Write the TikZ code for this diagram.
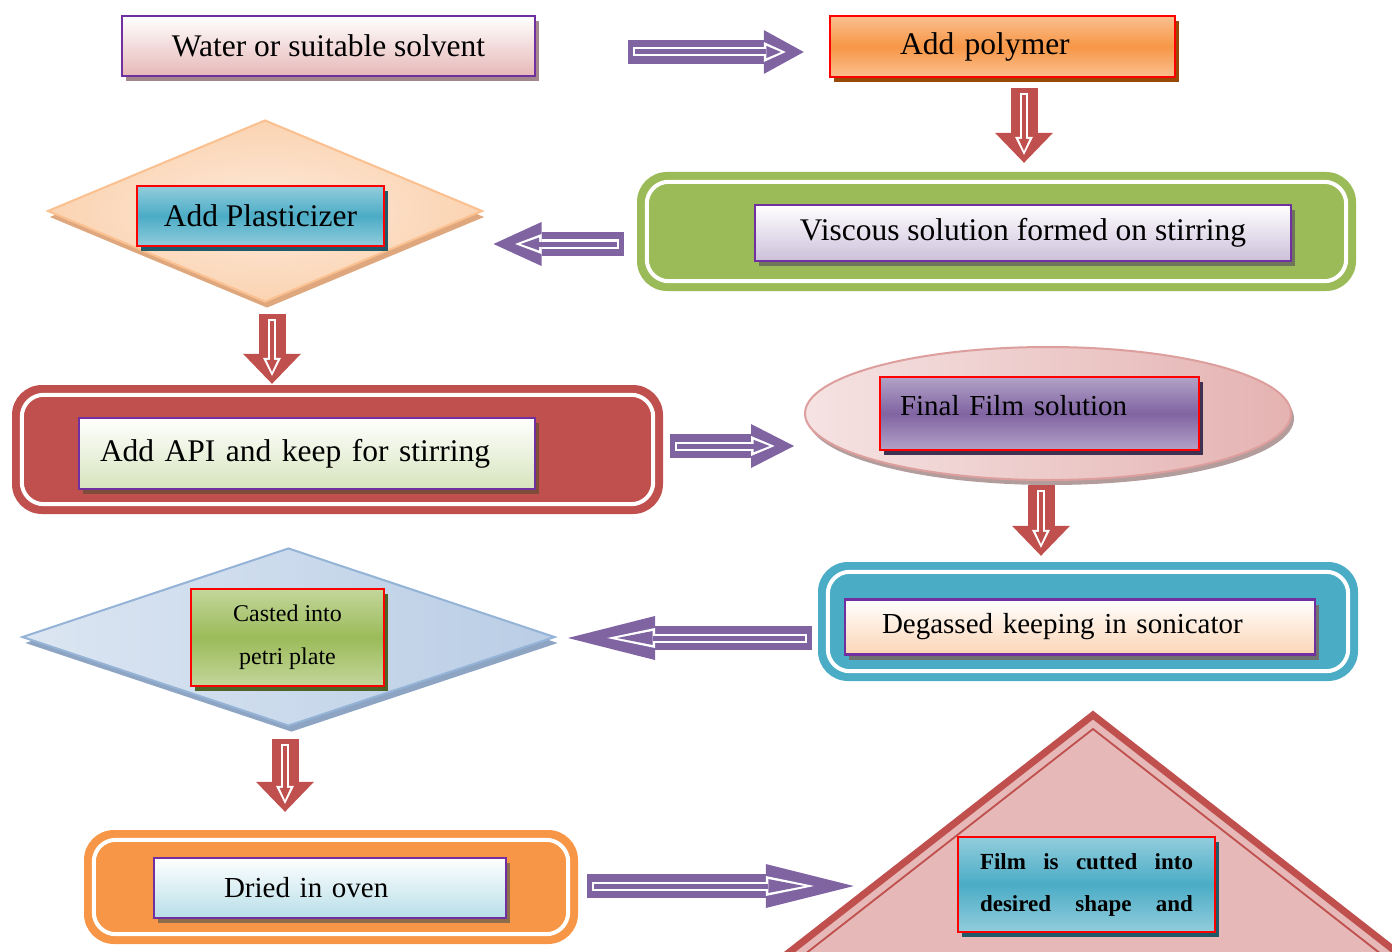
\documentclass[tikz,border=0pt]{standalone}
\usepackage{fontspec}
\setmainfont{Liberation Serif}
\usetikzlibrary{shapes.geometric,shadows,arrows.meta,calc}

\definecolor{boxpurple}{HTML}{7030A0}
\definecolor{flowpurple}{HTML}{8064A2}
\definecolor{flowred}{HTML}{C0504D}
\definecolor{framegreen}{HTML}{9BBB59}
\definecolor{frameblue}{HTML}{4BACC6}
\definecolor{frameorange}{HTML}{F79646}
\definecolor{lightpink}{HTML}{E6B8B7}
\definecolor{lightorange}{HTML}{FAC090}
\definecolor{lavender}{HTML}{CCC0DA}
\definecolor{lightteal}{HTML}{92CDDC}
\definecolor{lightolive}{HTML}{D7E4BD}
\definecolor{lightviolet}{HTML}{B3A2C7}
\definecolor{peach}{HTML}{FBD5B5}
\definecolor{lightgreen}{HTML}{C3D69B}
\definecolor{paleblue}{HTML}{B7DEE8}
\definecolor{skyleft}{HTML}{DCE6F2}
\definecolor{skyright}{HTML}{B9CDE5}
\definecolor{skyborder}{HTML}{95B3D7}
\definecolor{shadowpink}{HTML}{A3878A}
\definecolor{shadowbrown}{HTML}{984807}
\definecolor{shadowolive}{HTML}{6E755A}
\definecolor{shadowteal}{HTML}{215968}
\definecolor{shadowrust}{HTML}{7F4B3B}
\definecolor{shadowplum}{HTML}{3F3151}
\definecolor{shadowgray}{HTML}{707070}
\definecolor{shadowgreen}{HTML}{4F6228}
\definecolor{shadowtan}{HTML}{8C6D4C}
\definecolor{shadowpeach}{HTML}{DFA77E}
\definecolor{shadowblue}{HTML}{8DA4C3}
\definecolor{shadowrose}{HTML}{B39C9C}

\tikzset{
  stepbox/.style={rectangle, line width=2.5pt, inner ysep=0pt, font=\fontsize{31.5}{36}\selectfont},
  purplebox/.style={stepbox, draw=boxpurple},
  redbox/.style={stepbox, draw=red},
  boxshadow/.style={drop shadow={shadow xshift=4pt, shadow yshift=-5pt, fill=#1, opacity=1}},
  fade/.style={top color=white, bottom color=#1},
  band/.style 2 args={top color=#1, bottom color=#1, middle color=#2},
  frame/.style={rectangle, rounded corners=30pt, fill=#1, inner sep=0pt},
}

% fat purple arrow with white inner outline
\newcommand{\purplearrow}[3]{%
  \pgfmathsetmacro{\ilen}{0.55*#3}%
  \pgfmathsetmacro{\iback}{0.45*#3}%
  \pgfmathsetmacro{\pback}{\iback+2/sin(atan(10/\ilen))}%
  \pgfmathsetmacro{\plen}{\ilen-(\pback-\iback)-2.5}%
  \pgfmathsetmacro{\pwid}{20*\plen/\ilen-1}%
  \draw[flowpurple, line width=24pt, -{Triangle[length=#3pt, width=44pt, line width=0pt]}] (#1) -- (#2);
  \draw[white, line width=9pt, shorten <=5pt, shorten >=\iback pt, -{Triangle[length=\ilen pt, width=20pt, line width=0pt]}] (#1) -- (#2);
  \draw[flowpurple, line width=5pt, shorten <=7pt, shorten >=\pback pt, -{Triangle[length=\plen pt, width=\pwid pt, line width=0pt]}] (#1) -- (#2);
}
% fat red arrow pointing down
\newcommand{\redarrow}[2]{%
  \draw[flowred, line width=27pt, -{Triangle[length=30pt, width=58pt, line width=0pt]}] (#1) -- (#2);
  \draw[white, line width=8pt, shorten <=5pt, shorten >=8pt, -{Triangle[length=18pt, width=18pt, line width=0pt]}] (#1) -- (#2);
  \draw[flowred, line width=4pt, shorten <=7pt, shorten >=12pt, -{Triangle[length=12pt, width=11pt, line width=0pt]}] (#1) -- (#2);
}
% white line inside a frame
\newcommand{\whiteline}[1]{%
  \draw[white, line width=4pt, rounded corners=22pt] ($(#1.north west)+(10,10)$) rectangle ($(#1.south east)+(-10,-10)$);
}

\begin{document}
\begin{tikzpicture}[x=1pt, y=-1pt]
  \useasboundingbox (0,0) rectangle (1392,952);

  % first row
  \node[purplebox, fade=lightpink, boxshadow=shadowpink, minimum width=413pt, minimum height=60pt] (water) at (328.5,46) {Water or suitable solvent};
  \node[redbox, band={lightorange}{frameorange}, boxshadow=shadowbrown, text width=205pt, inner xsep=70pt, align=left, minimum height=61pt] (polymer) at (1002.5,46.5) {Add polymer};

  % second row
  \node[frame=framegreen, minimum width=719pt, minimum height=119pt] (greenframe) at (996.5,231.5) {};
  \whiteline{greenframe}
  \node[purplebox, fade=lavender, boxshadow=shadowolive, minimum width=536pt, minimum height=56pt] (viscous) at (1023,233) {Viscous solution formed on stirring};
  \node[diamond, inner sep=0pt, minimum width=435pt, minimum height=182pt, draw=lightorange, line width=2pt, inner color=white!50!peach, outer color=peach!90!lightorange, drop shadow={shadow xshift=2pt, shadow yshift=-6pt, fill=shadowpeach, opacity=1}] (plastdiamond) at (265,211) {};
  \node[redbox, band={lightteal}{frameblue}, boxshadow=shadowteal, minimum width=247pt, minimum height=60pt] (plasticizer) at (260.5,216) {Add Plasticizer};

  % third row
  \node[frame=flowred, minimum width=651pt, minimum height=129pt] (apiframe) at (337.5,449.5) {};
  \whiteline{apiframe}
  \node[purplebox, fade=lightolive, boxshadow=shadowrust, text width=414pt, inner xsep=21pt, align=left, minimum height=71pt] (api) at (307,453.5) {Add API and keep for stirring};
  \node[ellipse, inner sep=0pt, minimum width=486pt, minimum height=133pt, draw=flowred!55, line width=2pt, left color=lightpink!40, right color=lightpink!95!flowred, drop shadow={shadow xshift=3pt, shadow yshift=-5pt, fill=shadowrose, opacity=1}] (filmellipse) at (1048,413.5) {};
  \node[redbox, band={lightviolet}{flowpurple}, boxshadow=shadowplum, text width=279pt, inner xsep=20pt, align=left, minimum height=73pt, font=\fontsize{29}{34}\selectfont] (final) at (1039.5,413.5) {\raisebox{16pt}{Final Film solution}};

  % fourth row
  \node[frame=frameblue, minimum width=540pt, minimum height=119pt] (blueframe) at (1088,621.5) {};
  \whiteline{blueframe}
  \node[purplebox, fade=peach, boxshadow=shadowgray, text width=396pt, inner xsep=37pt, align=left, minimum height=55pt, font=\fontsize{29}{34}\selectfont] (degassed) at (1080,627) {Degassed keeping in sonicator};
  \node[diamond, inner sep=0pt, minimum width=533pt, minimum height=178pt, draw=skyborder, line width=2pt, left color=skyleft, right color=skyright, drop shadow={shadow xshift=3pt, shadow yshift=-6pt, fill=shadowblue, opacity=1}] (castdiamond) at (288.5,637) {};
  \node[redbox, band={lightgreen}{framegreen}, boxshadow=shadowgreen, minimum width=193pt, minimum height=97pt, align=center, font=\fontsize{24}{43}\selectfont] (casted) at (287.5,637.5) {Casted into\\petri plate};

  % last row
  \node[frame=frameorange, minimum width=494pt, minimum height=114pt] (ovenframe) at (331,887) {};
  \whiteline{ovenframe}
  \node[purplebox, fade=paleblue, boxshadow=shadowtan, text width=212pt, inner xsep=70pt, align=left, minimum height=60pt, font=\fontsize{29}{34}\selectfont] (dried) at (330,888) {Dried in oven};
  \draw[flowred, line width=7pt, fill=lightpink, line join=miter] (1093,715) -- (773,965) -- (1413,965) -- cycle;
  \draw[flowred, line width=1.8pt] (1093,729) -- (791,965) -- (1395,965) -- cycle;
  \node[redbox, band={lightteal}{frameblue}, boxshadow=shadowteal, text width=213pt, inner xsep=22pt, align=left, minimum height=95pt, font=\fontsize{23}{42}\selectfont\bfseries] (film) at (1086.5,884.5) {Film\hfill is\hfill cutted\hfill into\\desired\hfill shape\hfill and};

  % arrows
  \purplearrow{$(water.east)+(92,6)$}{$(polymer.west)+(-25,5.5)$}{40}
  \redarrow{$(polymer.south)+(21.5,10)$}{$(greenframe.north)+(27.5,-9)$}
  \purplearrow{$(greenframe.west)+(-13,12.5)$}{$(plastdiamond.east)+(10,33)$}{48}
  \redarrow{$(plastdiamond.south)+(7,11)$}{$(apiframe.north)+(-65.5,-1)$}
  \purplearrow{$(apiframe.east)+(7,-3.5)$}{$(filmellipse.west)+(-10,32.5)$}{43}
  \redarrow{$(filmellipse.south)+(-7,4)$}{$(blueframe.north)+(-47,-6)$}
  \purplearrow{$(blueframe.west)+(-6,16.5)$}{$(castdiamond.east)+(12,1)$}{87}
  \redarrow{$(castdiamond.south)+(-3.5,12)$}{$(ovenframe.north)+(-46,-18)$}
  \purplearrow{$(ovenframe.east)+(9,-1)$}{$(film.west)+(-103,1.5)$}{88}
\end{tikzpicture}
\end{document}
